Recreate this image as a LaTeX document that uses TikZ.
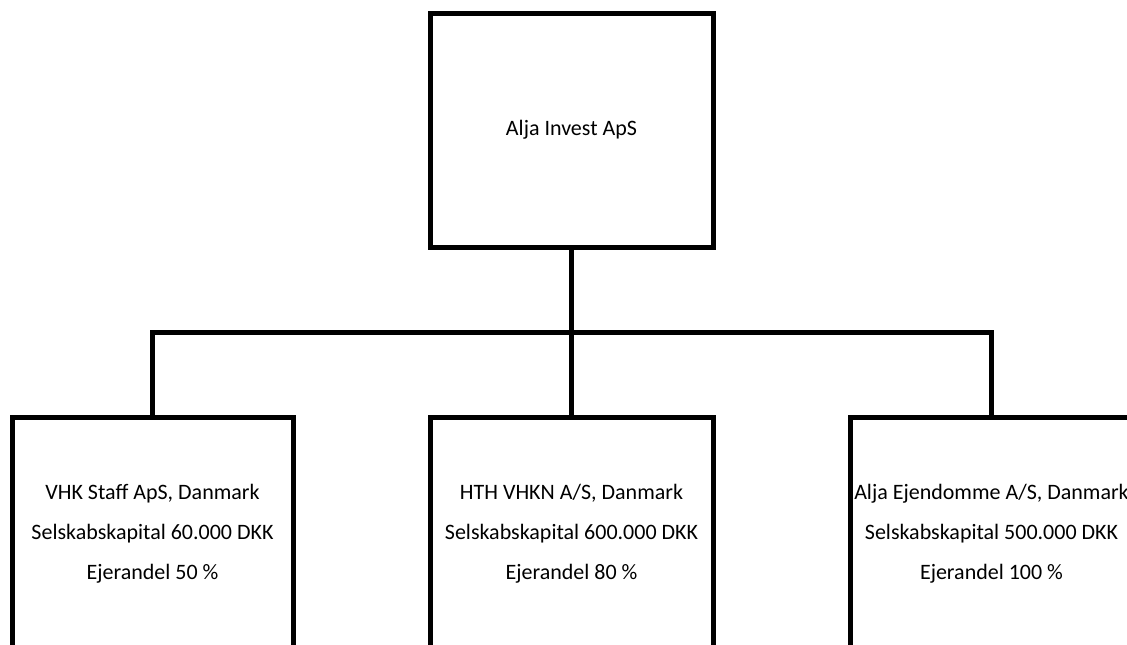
\documentclass[tikz,border=0pt]{standalone}
\usepackage{fontspec}
\setmainfont{Carlito}
\begin{document}
\begin{tikzpicture}[x=1pt,y=-1pt,
  firm/.style={draw,line width=5pt,minimum width=281pt,minimum height=234pt,inner sep=0,align=center,font=\fontsize{22}{40}\selectfont},
  link/.style={line width=5pt}]
\useasboundingbox (0,0) rectangle (1127,645);
\clip (0,0) rectangle (1127,645);
\node[firm,minimum width=283pt] (alja) at (571.5,130) {Alja Invest ApS};
\node[firm] (vhk) at (152.5,534) {VHK Staff ApS, Danmark\\Selskabskapital 60.000 DKK\\Ejerandel 50 \%};
\node[firm,minimum width=283pt] (hth) at (571.5,534) {HTH VHKN A/S, Danmark\\Selskabskapital 600.000 DKK\\Ejerandel 80 \%};
\node[firm,minimum width=283pt] (ejd) at (991.5,534) {Alja Ejendomme A/S, Danmark\\Selskabskapital 500.000 DKK\\Ejerandel 100 \%};
\coordinate (bus) at (571.5,332);
\draw[link] (alja.south) -- (hth.north);
\draw[link] (vhk.north) |- (bus) -| (ejd.north);
\end{tikzpicture}
\end{document}
